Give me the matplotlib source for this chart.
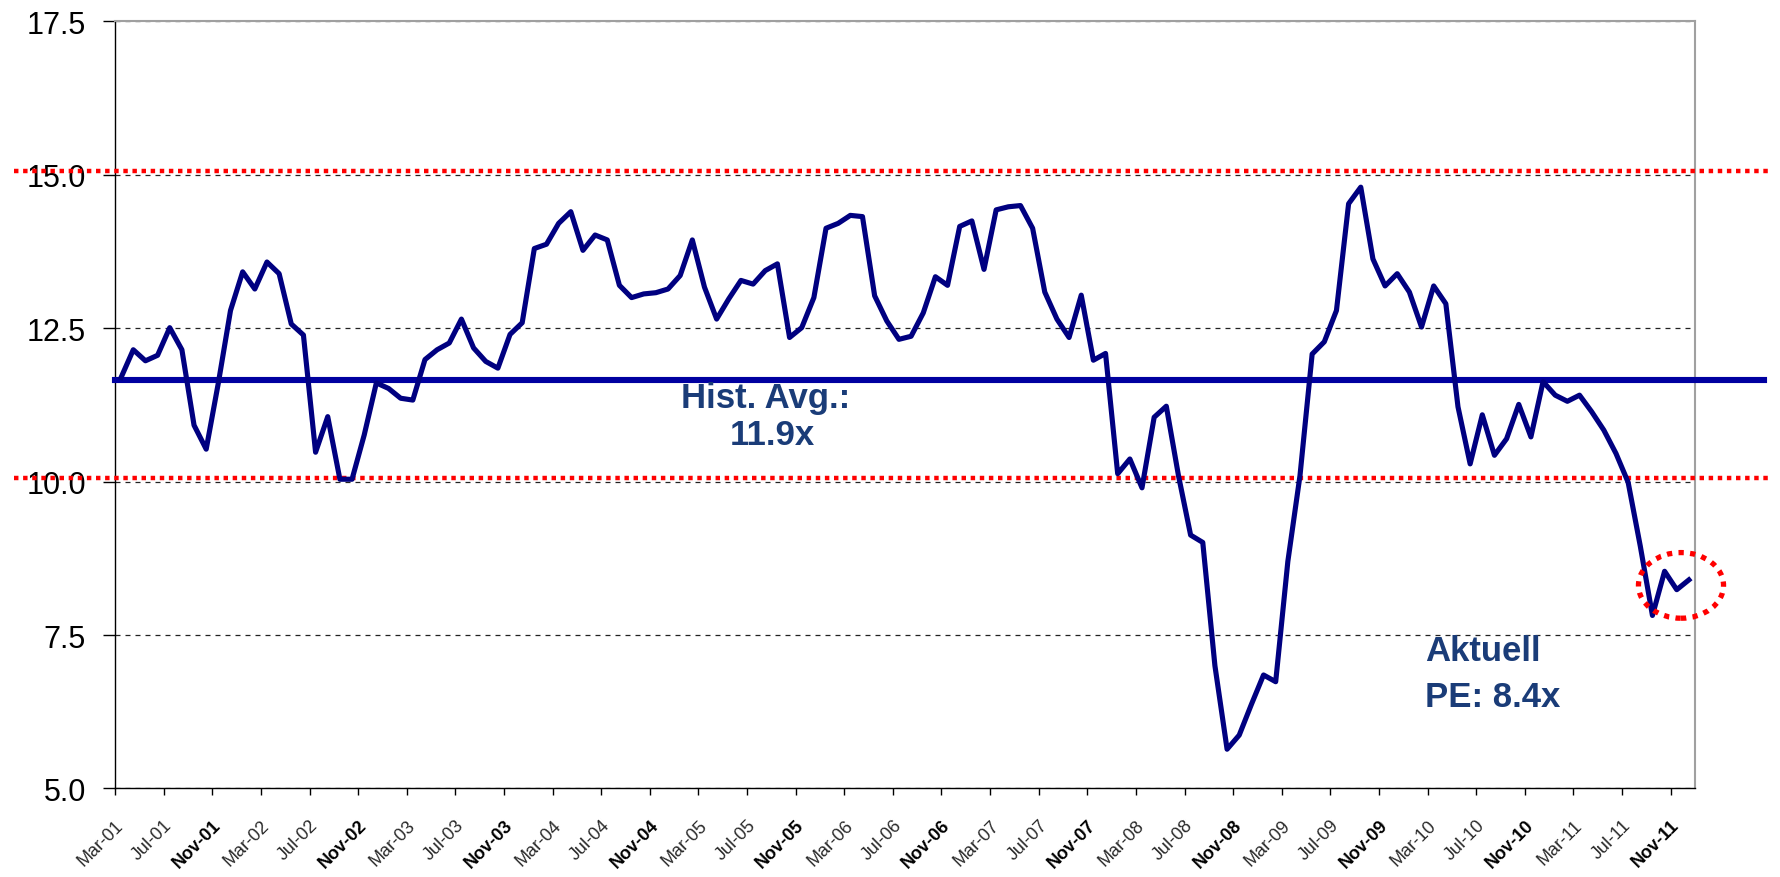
import numpy as np
import matplotlib.pyplot as plt
from matplotlib.patches import Ellipse

plt.rcParams['font.family'] = ['Liberation Sans', 'DejaVu Sans']

# monthly PE ratio, Mar-01 .. Dec-11
pe_ratio = [
    11.70, 12.15, 11.97, 12.06, 12.51, 12.15, 10.92, 10.53, 11.61, 12.79,
    13.42, 13.14, 13.58, 13.39, 12.57, 12.39, 10.48, 11.06, 10.04, 10.04,
    10.76, 11.61, 11.52, 11.36, 11.33, 11.99, 12.15, 12.26, 12.65, 12.18,
    11.96, 11.85, 12.40, 12.59, 13.80, 13.87, 14.21, 14.40, 13.77, 14.02,
    13.94, 13.20, 13.00, 13.06, 13.08, 13.14, 13.36, 13.94, 13.17, 12.65,
    12.98, 13.28, 13.22, 13.44, 13.55, 12.35, 12.51, 13.00, 14.13, 14.21,
    14.34, 14.32, 13.03, 12.62, 12.32, 12.37, 12.75, 13.34, 13.20, 14.16,
    14.25, 13.46, 14.43, 14.48, 14.50, 14.13, 13.09, 12.65, 12.35, 13.04,
    11.98, 12.09, 10.13, 10.37, 9.90, 11.05, 11.23, 10.10, 9.13, 9.01,
    7.00, 5.64, 5.87, 6.37, 6.85, 6.74, 8.70, 10.10, 12.08, 12.28,
    12.79, 14.53, 14.80, 13.63, 13.19, 13.39, 13.09, 12.52, 13.19, 12.90,
    11.22, 10.29, 11.09, 10.43, 10.70, 11.26, 10.73, 11.63, 11.41, 11.31,
    11.41, 11.14, 10.84, 10.46, 9.99, 8.95, 7.82, 8.54, 8.24, 8.40,
]

tick_labels = [
    "Mar-01", "Jul-01", "Nov-01", "Mar-02", "Jul-02", "Nov-02", "Mar-03",
    "Jul-03", "Nov-03", "Mar-04", "Jul-04", "Nov-04", "Mar-05", "Jul-05",
    "Nov-05", "Mar-06", "Jul-06", "Nov-06", "Mar-07", "Jul-07", "Nov-07",
    "Mar-08", "Jul-08", "Nov-08", "Mar-09", "Jul-09", "Nov-09", "Mar-10",
    "Jul-10", "Nov-10", "Mar-11", "Jul-11", "Nov-11",
]
y_ticks = [5.0, 7.5, 10.0, 12.5, 15.0, 17.5]

hist_avg = 11.66      # thick blue line
band_high = 15.06     # red dotted lines
band_low = 10.06
current_pe = 8.31     # centre of the red circle

fig = plt.figure(figsize=(17.81, 8.78), dpi=100)
ax = fig.add_axes([0.0646, 0.1008, 0.8871, 0.8736])

x = np.arange(len(pe_ratio)) + 0.5
ax.set_xlim(0, len(pe_ratio))
ax.set_ylim(y_ticks[0], y_ticks[-1])

# dashed grid
ax.yaxis.grid(True, color='#222222', linestyle=(0, (4, 4)), linewidth=0.9)
ax.set_axisbelow(True)

# red band lines running past the plot
for lvl in [band_high, band_low]:
    ax.axhline(lvl, xmin=-0.064, xmax=1.046, color='#FF0000', lw=3.2,
               linestyle=(0, (1, 1.05)), clip_on=False, zorder=3)

# historical average
ax.axhline(hist_avg, xmin=0, xmax=1.044, color='#0000A0', lw=4.4,
           clip_on=False, zorder=4)

ax.plot(x, pe_ratio, color='#000080', lw=3.7, zorder=5)

# circle round the latest value
circ = Ellipse((x[-1] - 0.65, current_pe), 7.0, 1.07, fill=False,
               edgecolor='#FF0000', lw=3.8, linestyle=(0, (1, 1.2)),
               clip_on=False, zorder=6)
ax.add_patch(circ)

ax.set_yticks(y_ticks)
ax.set_yticklabels([f"{v:.1f}" for v in y_ticks])
ax.set_xticks(np.arange(len(tick_labels)) * 4)
ax.set_xticklabels(tick_labels, rotation=45, ha='right', va='top',
                   rotation_mode='anchor')
for lbl in ax.get_xticklabels():
    if lbl.get_text().startswith('Nov'):
        lbl.set_fontweight('bold')
        lbl.set_color('black')
    else:
        lbl.set_color('#2a2a2a')

ax.tick_params(axis='y', direction='out', length=9, width=1, labelsize=22, pad=12)
ax.tick_params(axis='x', direction='out', length=5, width=1, labelsize=13, pad=15)

for s in ['top', 'right']:
    ax.spines[s].set_color('#A0A0A0')
    ax.spines[s].set_linewidth(1.5)
for s in ['left', 'bottom']:
    ax.spines[s].set_color('black')
    ax.spines[s].set_linewidth(1.0)

txt_color = '#1A3C78'
fig.text(0.4301, 0.5353, "Hist. Avg.:", ha='center', va='baseline',
         fontsize=25, fontweight='bold', color=txt_color)
fig.text(0.4335, 0.4932, "11.9x", ha='center', va='baseline',
         fontsize=25, fontweight='bold', color=txt_color)
fig.text(0.8001, 0.2472, "Aktuell", ha='left', va='baseline',
         fontsize=25, fontweight='bold', color=txt_color)
fig.text(0.8001, 0.1948, "PE: 8.4x", ha='left', va='baseline',
         fontsize=25, fontweight='bold', color=txt_color)

fig.savefig("out.png", dpi=100)
